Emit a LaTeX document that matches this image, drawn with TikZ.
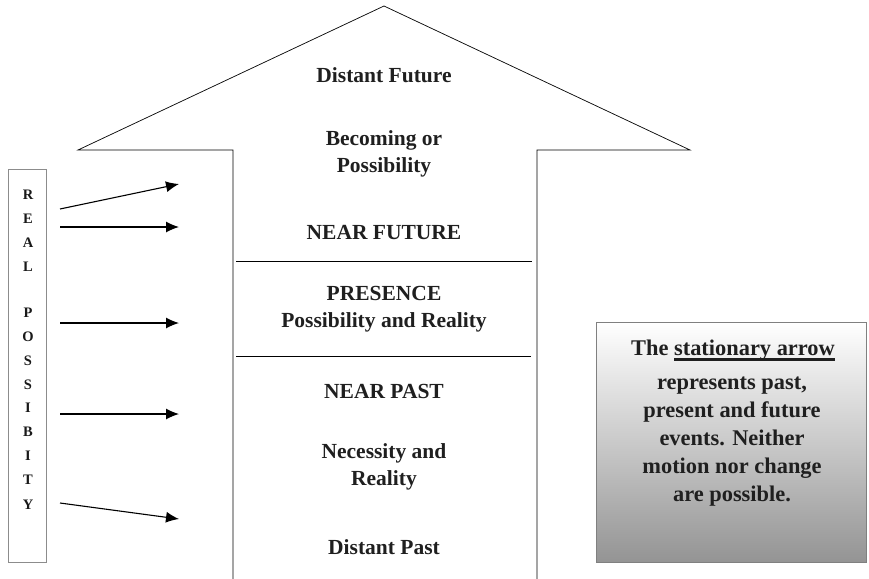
\documentclass[tikz,border=0pt]{standalone}
\usepackage{fontspec}
\setmainfont{Liberation Serif}
\usetikzlibrary{arrows.meta}
\newcommand\thickul[1]{\setbox0\hbox{#1}\rlap{\rule[-5.5pt]{\wd0}{2.4pt}}\box0}
\begin{document}
\begin{tikzpicture}[x=1pt,y=-1pt,
  lbl/.style={font=\bfseries\fontsize{21.5}{27}\selectfont, text=black!88, align=center, inner sep=0pt},
  boxtxt/.style={font=\bfseries\fontsize{22.4}{28}\selectfont, text=black!88, align=center, inner sep=0pt},
  letter/.style={font=\bfseries\fontsize{14.5}{16}\selectfont, text=black!90, inner sep=0pt},
  conn/.style={-{Latex[length=13pt,width=11pt]}, line width=1.1pt},
  sep/.style={line width=0.6pt}]
\useasboundingbox (0,0) rectangle (869,578);
% big arrow
\draw[line width=0.7pt] (233,585) -- (233,150) -- (78,150) -- (384,6) -- (690,150) -- (537,150) -- (537,585);
\coordinate (l1a) at (236,261); \coordinate (l1b) at (532,261);
\coordinate (l2a) at (236,356); \coordinate (l2b) at (531,356);
\draw[sep] (l1a) -- (l1b);
\draw[sep] (l2a) -- (l2b);
% labels
\node[lbl] (df) at (384,75) {Distant Future};
\node[lbl] (bp) at (384,154) {Becoming or\\Possibility};
\node[lbl] (nf) at (384,233) {NEAR FUTURE};
\node[lbl] (pr) at (384,309) {PRESENCE\\Possibility and Reality};
\node[lbl] (np) at (384,391) {NEAR PAST};
\node[lbl] (nr) at (384,467) {Necessity and\\Reality};
\node[lbl] (dp) at (384,547) {Distant Past};
% left box
\node[draw=black!45, line width=0.6pt, minimum width=38pt, minimum height=393pt, inner sep=0pt] (rp) at (27,366) {};
\foreach \ch/\yy [count=\i] in {R/195,E/219,A/243,L/267,P/313,O/337,S/361,S/385,I/408,B/432,I/456,T/480,Y/505}
  \node[letter] (c\i) at (28,\yy) {\ch};
% arrows
\coordinate (s1) at (60,209); \coordinate (e1) at (179,184);
\coordinate (s2) at (60,227); \coordinate (e2) at (179,227);
\coordinate (s3) at (60,323); \coordinate (e3) at (179,323);
\coordinate (s4) at (60,414); \coordinate (e4) at (179,414);
\coordinate (s5) at (60,503); \coordinate (e5) at (179,519);
\foreach \i in {1,...,5} \draw[conn] (s\i) -- (e\i);
% right box
\node[draw=black!50, line width=0.7pt, top color=white, bottom color=black!42, minimum width=270pt, minimum height=240pt, inner sep=0pt] (rb) at (731,442) {};
\node[boxtxt] (rbt) at (733,350) {The \thickul{stationary arrow}};
\node[boxtxt] (rbb) at (732,442) {represents past,\\present and future\\events. Neither\\motion nor change\\are possible.};
\end{tikzpicture}
\end{document}
